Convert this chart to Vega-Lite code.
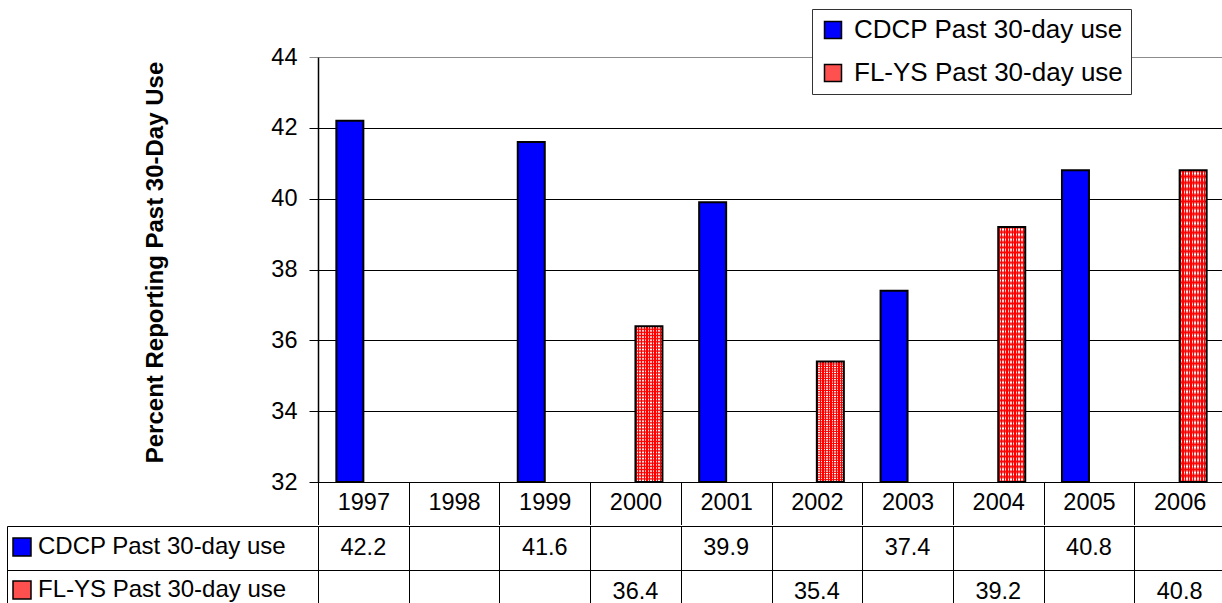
{
  "$schema": "https://vega.github.io/schema/vega-lite/v6.json",
  "padding": {"left": 6, "top": 8, "right": 0, "bottom": 0},
  "spacing": 0,
  "config": {"font": "Liberation Sans", "view": {"stroke": null}},
  "datasets": {
    "table": [
      {"year": 1997, "series": "CDCP Past 30-day use", "value": 42.2},
      {"year": 1999, "series": "CDCP Past 30-day use", "value": 41.6},
      {"year": 2001, "series": "CDCP Past 30-day use", "value": 39.9},
      {"year": 2003, "series": "CDCP Past 30-day use", "value": 37.4},
      {"year": 2005, "series": "CDCP Past 30-day use", "value": 40.8},
      {"year": 2000, "series": "FL-YS Past 30-day use", "value": 36.4},
      {"year": 2002, "series": "FL-YS Past 30-day use", "value": 35.4},
      {"year": 2004, "series": "FL-YS Past 30-day use", "value": 39.2},
      {"year": 2006, "series": "FL-YS Past 30-day use", "value": 40.8}
    ]
  },
  "resolve": {
    "scale": {"x": "independent", "y": "independent", "color": "independent", "xOffset": "independent"},
    "axis": {"x": "independent", "y": "independent"},
    "legend": {"color": "independent"}
  },
  "vconcat": [
    {
      "width": 907,
      "height": 425,
      "data": {"name": "table"},
      "encoding": {
        "x": {
          "field": "year", "type": "ordinal",
          "scale": {"domain": [1997, 1998, 1999, 2000, 2001, 2002, 2003, 2004, 2005, 2006], "paddingInner": 0, "paddingOuter": 0},
          "axis": {
            "title": null, "orient": "bottom", "grid": false,
            "domainColor": "black", "domainWidth": 1,
            "tickBand": "extent", "tickColor": "black", "tickSize": 42.5, "tickWidth": 1,
            "labelFontSize": 23.5, "labelColor": "black", "labelPadding": -22, "labelBaseline": "middle",
            "labelAngle": 0, "labelFlush": false, "labelOverlap": false
          }
        },
        "xOffset": {
          "field": "series", "type": "nominal",
          "scale": {"domain": ["CDCP Past 30-day use", "FL-YS Past 30-day use"], "paddingInner": 0, "paddingOuter": 0.68}
        },
        "y": {
          "field": "value", "type": "quantitative",
          "scale": {"domain": [32, 44], "zero": false, "nice": false},
          "axis": {
            "title": "Percent Reporting Past 30-Day Use",
            "values": [32, 34, 36, 38, 40, 42, 44],
            "grid": true,
            "gridColor": {"condition": {"test": "datum.value === 44", "value": "#8c8c8c"}, "value": "#000000"},
            "gridWidth": 1,
            "domainColor": "black", "domainWidth": 1.5,
            "tickColor": {"condition": {"test": "datum.value === 44", "value": "#8c8c8c"}, "value": "#000000"},
            "tickSize": 9, "tickWidth": 1,
            "labelFontSize": 23.5, "labelColor": "black", "labelPadding": 12,
            "labelFlush": false, "labelOverlap": false,
            "titleFontSize": 24, "titleFontWeight": "bold", "titleColor": "black",
            "titleAngle": -90, "titleX": -163, "titleY": 205, "titleBaseline": "middle", "titleAlign": "center"
          }
        },
        "y2": {"datum": 32}
      },
      "layer": [
        {
          "mark": {"type": "bar"},
          "encoding": {
            "color": {
              "field": "series", "type": "nominal",
              "scale": {"domain": ["CDCP Past 30-day use", "FL-YS Past 30-day use"], "range": ["#0000ff", "#ff5050"]},
              "legend": {
                "orient": "none", "legendX": 494, "legendY": -48, "title": null,
                "symbolType": "square", "symbolSize": 289, "symbolStrokeColor": "black", "symbolStrokeWidth": 1.5,
                "labelFontSize": 26, "labelColor": "black", "labelOffset": 8, "labelLimit": 500,
                "padding": 8, "rowPadding": 17, "strokeColor": "#333333", "fillColor": "white", "cornerRadius": 0,
                "encode": {"symbols": {"update": {"stroke": {"value": "black"}, "strokeWidth": {"value": 1.5}}}}
              }
            }
          }
        },
        {
          "transform": [{"filter": "datum.series === 'FL-YS Past 30-day use'"}],
          "mark": {
            "type": "bar",
            "fill": {
              "gradient": "linear", "x1": 0, "y1": 0, "x2": 1, "y2": 0,
              "stops": [
                {"offset": 0, "color": "#ff0000"}, {"offset": 0.05, "color": "#ff0000"}, {"offset": 0.05, "color": "#ffffff"}, {"offset": 0.1, "color": "#ffffff"},
                {"offset": 0.1, "color": "#ff0000"}, {"offset": 0.15, "color": "#ff0000"}, {"offset": 0.15, "color": "#ffffff"}, {"offset": 0.2, "color": "#ffffff"},
                {"offset": 0.2, "color": "#ff0000"}, {"offset": 0.25, "color": "#ff0000"}, {"offset": 0.25, "color": "#ffffff"}, {"offset": 0.3, "color": "#ffffff"},
                {"offset": 0.3, "color": "#ff0000"}, {"offset": 0.35, "color": "#ff0000"}, {"offset": 0.35, "color": "#ffffff"}, {"offset": 0.4, "color": "#ffffff"},
                {"offset": 0.4, "color": "#ff0000"}, {"offset": 0.45, "color": "#ff0000"}, {"offset": 0.45, "color": "#ffffff"}, {"offset": 0.5, "color": "#ffffff"},
                {"offset": 0.5, "color": "#ff0000"}, {"offset": 0.55, "color": "#ff0000"}, {"offset": 0.55, "color": "#ffffff"}, {"offset": 0.6, "color": "#ffffff"},
                {"offset": 0.6, "color": "#ff0000"}, {"offset": 0.65, "color": "#ff0000"}, {"offset": 0.65, "color": "#ffffff"}, {"offset": 0.7, "color": "#ffffff"},
                {"offset": 0.7, "color": "#ff0000"}, {"offset": 0.75, "color": "#ff0000"}, {"offset": 0.75, "color": "#ffffff"}, {"offset": 0.8, "color": "#ffffff"},
                {"offset": 0.8, "color": "#ff0000"}, {"offset": 0.85, "color": "#ff0000"}, {"offset": 0.85, "color": "#ffffff"}, {"offset": 0.9, "color": "#ffffff"},
                {"offset": 0.9, "color": "#ff0000"}, {"offset": 0.95, "color": "#ff0000"}, {"offset": 0.95, "color": "#ffffff"}, {"offset": 1, "color": "#ffffff"}
              ]
            }
          }
        },
        {
          "transform": [{"filter": "datum.series === 'FL-YS Past 30-day use'"}],
          "mark": {
            "type": "bar",
            "fill": {
              "gradient": "linear", "x1": 0, "y1": 0, "x2": 0, "y2": 1,
              "stops": [
                {"offset": 0, "color": "#ff0000"}, {"offset": 0.01, "color": "rgba(255,0,0,0)"},
                {"offset": 0.02, "color": "#ff0000"}, {"offset": 0.03, "color": "rgba(255,0,0,0)"},
                {"offset": 0.04, "color": "#ff0000"}, {"offset": 0.05, "color": "rgba(255,0,0,0)"},
                {"offset": 0.06, "color": "#ff0000"}, {"offset": 0.07, "color": "rgba(255,0,0,0)"},
                {"offset": 0.08, "color": "#ff0000"}, {"offset": 0.09, "color": "rgba(255,0,0,0)"},
                {"offset": 0.1, "color": "#ff0000"}, {"offset": 0.11, "color": "rgba(255,0,0,0)"},
                {"offset": 0.12, "color": "#ff0000"}, {"offset": 0.13, "color": "rgba(255,0,0,0)"},
                {"offset": 0.14, "color": "#ff0000"}, {"offset": 0.15, "color": "rgba(255,0,0,0)"},
                {"offset": 0.16, "color": "#ff0000"}, {"offset": 0.17, "color": "rgba(255,0,0,0)"},
                {"offset": 0.18, "color": "#ff0000"}, {"offset": 0.19, "color": "rgba(255,0,0,0)"},
                {"offset": 0.2, "color": "#ff0000"}, {"offset": 0.21, "color": "rgba(255,0,0,0)"},
                {"offset": 0.22, "color": "#ff0000"}, {"offset": 0.23, "color": "rgba(255,0,0,0)"},
                {"offset": 0.24, "color": "#ff0000"}, {"offset": 0.25, "color": "rgba(255,0,0,0)"},
                {"offset": 0.26, "color": "#ff0000"}, {"offset": 0.27, "color": "rgba(255,0,0,0)"},
                {"offset": 0.28, "color": "#ff0000"}, {"offset": 0.29, "color": "rgba(255,0,0,0)"},
                {"offset": 0.3, "color": "#ff0000"}, {"offset": 0.31, "color": "rgba(255,0,0,0)"},
                {"offset": 0.32, "color": "#ff0000"}, {"offset": 0.33, "color": "rgba(255,0,0,0)"},
                {"offset": 0.34, "color": "#ff0000"}, {"offset": 0.35, "color": "rgba(255,0,0,0)"},
                {"offset": 0.36, "color": "#ff0000"}, {"offset": 0.37, "color": "rgba(255,0,0,0)"},
                {"offset": 0.38, "color": "#ff0000"}, {"offset": 0.39, "color": "rgba(255,0,0,0)"},
                {"offset": 0.4, "color": "#ff0000"}, {"offset": 0.41, "color": "rgba(255,0,0,0)"},
                {"offset": 0.42, "color": "#ff0000"}, {"offset": 0.43, "color": "rgba(255,0,0,0)"},
                {"offset": 0.44, "color": "#ff0000"}, {"offset": 0.45, "color": "rgba(255,0,0,0)"},
                {"offset": 0.46, "color": "#ff0000"}, {"offset": 0.47, "color": "rgba(255,0,0,0)"},
                {"offset": 0.48, "color": "#ff0000"}, {"offset": 0.49, "color": "rgba(255,0,0,0)"},
                {"offset": 0.5, "color": "#ff0000"}, {"offset": 0.51, "color": "rgba(255,0,0,0)"},
                {"offset": 0.52, "color": "#ff0000"}, {"offset": 0.53, "color": "rgba(255,0,0,0)"},
                {"offset": 0.54, "color": "#ff0000"}, {"offset": 0.55, "color": "rgba(255,0,0,0)"},
                {"offset": 0.56, "color": "#ff0000"}, {"offset": 0.57, "color": "rgba(255,0,0,0)"},
                {"offset": 0.58, "color": "#ff0000"}, {"offset": 0.59, "color": "rgba(255,0,0,0)"},
                {"offset": 0.6, "color": "#ff0000"}, {"offset": 0.61, "color": "rgba(255,0,0,0)"},
                {"offset": 0.62, "color": "#ff0000"}, {"offset": 0.63, "color": "rgba(255,0,0,0)"},
                {"offset": 0.64, "color": "#ff0000"}, {"offset": 0.65, "color": "rgba(255,0,0,0)"},
                {"offset": 0.66, "color": "#ff0000"}, {"offset": 0.67, "color": "rgba(255,0,0,0)"},
                {"offset": 0.68, "color": "#ff0000"}, {"offset": 0.69, "color": "rgba(255,0,0,0)"},
                {"offset": 0.7, "color": "#ff0000"}, {"offset": 0.71, "color": "rgba(255,0,0,0)"},
                {"offset": 0.72, "color": "#ff0000"}, {"offset": 0.73, "color": "rgba(255,0,0,0)"},
                {"offset": 0.74, "color": "#ff0000"}, {"offset": 0.75, "color": "rgba(255,0,0,0)"},
                {"offset": 0.76, "color": "#ff0000"}, {"offset": 0.77, "color": "rgba(255,0,0,0)"},
                {"offset": 0.78, "color": "#ff0000"}, {"offset": 0.79, "color": "rgba(255,0,0,0)"},
                {"offset": 0.8, "color": "#ff0000"}, {"offset": 0.81, "color": "rgba(255,0,0,0)"},
                {"offset": 0.82, "color": "#ff0000"}, {"offset": 0.83, "color": "rgba(255,0,0,0)"},
                {"offset": 0.84, "color": "#ff0000"}, {"offset": 0.85, "color": "rgba(255,0,0,0)"},
                {"offset": 0.86, "color": "#ff0000"}, {"offset": 0.87, "color": "rgba(255,0,0,0)"},
                {"offset": 0.88, "color": "#ff0000"}, {"offset": 0.89, "color": "rgba(255,0,0,0)"},
                {"offset": 0.9, "color": "#ff0000"}, {"offset": 0.91, "color": "rgba(255,0,0,0)"},
                {"offset": 0.92, "color": "#ff0000"}, {"offset": 0.93, "color": "rgba(255,0,0,0)"},
                {"offset": 0.94, "color": "#ff0000"}, {"offset": 0.95, "color": "rgba(255,0,0,0)"},
                {"offset": 0.96, "color": "#ff0000"}, {"offset": 0.97, "color": "rgba(255,0,0,0)"},
                {"offset": 0.98, "color": "#ff0000"}, {"offset": 0.99, "color": "rgba(255,0,0,0)"},
                {"offset": 1, "color": "#ff0000"}
              ]
            }
          }
        },
        {
          "mark": {"type": "bar", "fill": "transparent", "stroke": "black", "strokeWidth": 2}
        }
      ]
    },
    {
      "width": 907,
      "height": 88,
      "data": {"name": "table"},
      "encoding": {
        "x": {
          "field": "year", "type": "ordinal",
          "scale": {"domain": [1997, 1998, 1999, 2000, 2001, 2002, 2003, 2004, 2005, 2006], "paddingInner": 0, "paddingOuter": 0},
          "axis": {"title": null, "orient": "bottom", "labels": false, "ticks": false, "domain": false, "grid": true, "gridColor": "black", "gridWidth": 1, "tickBand": "extent"}
        },
        "y": {
          "field": "series", "type": "nominal",
          "scale": {"domain": ["CDCP Past 30-day use", "FL-YS Past 30-day use"], "paddingInner": 0, "paddingOuter": 0},
          "axis": {
            "title": null, "labels": false, "offset": 311,
            "domainColor": "black", "domainWidth": 1,
            "ticks": true, "tickColor": "black", "tickSize": -311, "tickWidth": 1, "tickBand": "extent",
            "grid": true, "gridColor": "black", "gridWidth": 1
          }
        }
      },
      "layer": [
        {
          "mark": {"type": "text", "fontSize": 23.5, "color": "black", "baseline": "middle"},
          "encoding": {"text": {"field": "value", "type": "quantitative", "format": ".1f"}}
        },
        {
          "mark": {"type": "text", "text": ""},
          "encoding": {
            "color": {
              "field": "series", "type": "nominal",
              "scale": {"domain": ["CDCP Past 30-day use", "FL-YS Past 30-day use"], "range": ["#0000ff", "#ff5050"]},
              "legend": {
                "orient": "none", "legendX": -308, "legendY": 9, "title": null,
                "symbolType": "square", "symbolSize": 324, "symbolStrokeColor": "black", "symbolStrokeWidth": 1.5, "symbolOpacity": 1,
                "labelFontSize": 24, "labelColor": "black", "labelOffset": 4, "labelLimit": 500,
                "padding": 0, "rowPadding": 19,
                "encode": {"symbols": {"update": {"stroke": {"value": "black"}, "strokeWidth": {"value": 1.5}}}}
              }
            }
          }
        }
      ]
    }
  ]
}
